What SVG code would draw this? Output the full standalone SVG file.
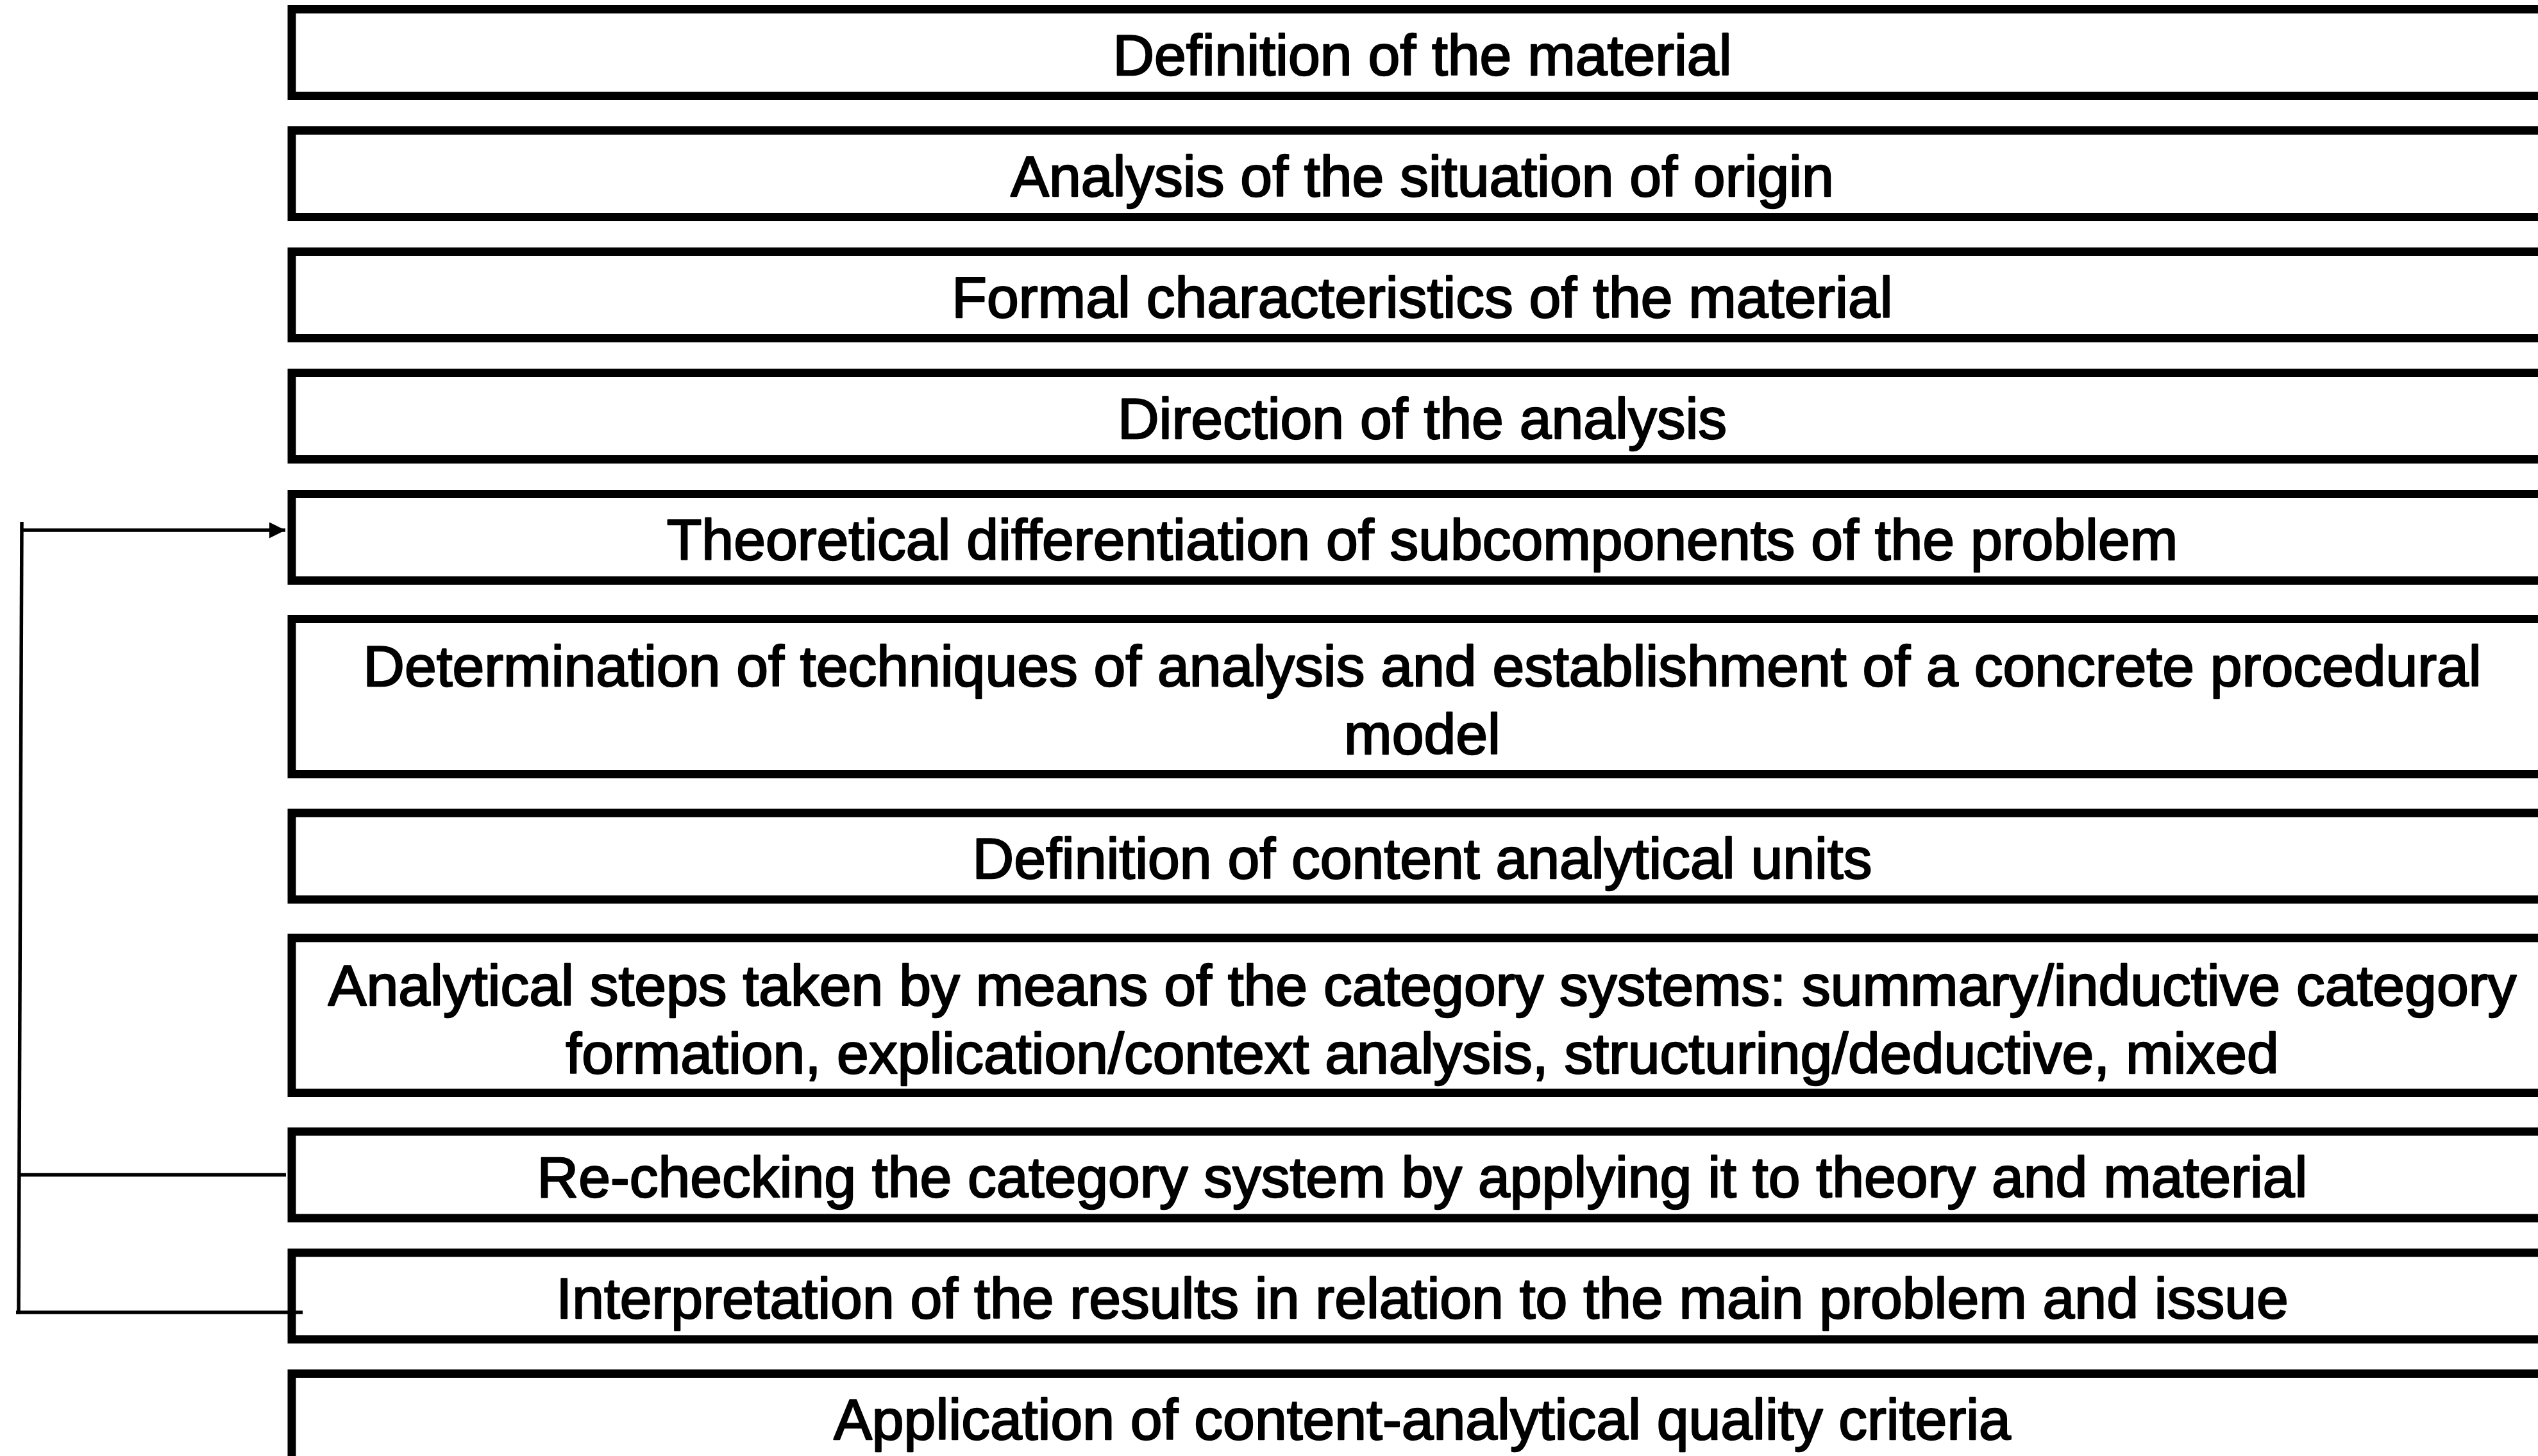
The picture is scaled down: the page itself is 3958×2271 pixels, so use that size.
<svg xmlns="http://www.w3.org/2000/svg" width="3958" height="2271" viewBox="0 0 3958 2271">
  <style>
    .box { fill: #ffffff; stroke: #000000; stroke-width: 13; }
    .lbl { font-family: "Liberation Sans", Arial, Helvetica, sans-serif; font-size: 89.5px; fill: #000000; stroke: #000000; stroke-width: 2.4px; stroke-linejoin: round; text-anchor: middle; }
    .wire { fill: none; stroke: #000000; stroke-width: 5.5; }
  </style>
  <defs>
    <marker id="arrowhead" viewBox="0 0 25 25" refX="25" refY="12.5" markerWidth="25" markerHeight="25" markerUnits="userSpaceOnUse" orient="auto">
      <path d="M0,0 L25,12.5 L0,25 Z" fill="#000000"/>
    </marker>
  </defs>
  <rect x="0" y="0" width="3958" height="2271" fill="#ffffff"/>

  <!-- process steps, each box runs off the right edge -->
  <g id="step-1">
    <rect class="box" x="455" y="14.5" width="3527" height="135"/>
    <text class="lbl" x="2218" y="116.5">Definition of the material</text>
  </g>
  <g id="step-2">
    <rect class="box" x="455" y="203.5" width="3527" height="135"/>
    <text class="lbl" x="2218" y="305.5">Analysis of the situation of origin</text>
  </g>
  <g id="step-3">
    <rect class="box" x="455" y="392.5" width="3527" height="135"/>
    <text class="lbl" x="2218" y="494.5">Formal characteristics of the material</text>
  </g>
  <g id="step-4">
    <rect class="box" x="455" y="581.5" width="3527" height="135"/>
    <text class="lbl" x="2218" y="683.5">Direction of the analysis</text>
  </g>
  <g id="step-5">
    <rect class="box" x="455" y="770.5" width="3527" height="135"/>
    <text class="lbl" x="2218" y="872.5">Theoretical differentiation of subcomponents of the problem</text>
  </g>
  <g id="step-6">
    <rect class="box" x="455" y="965.5" width="3527" height="242"/>
    <text class="lbl" x="2218" y="1070">Determination of techniques of analysis and establishment of a concrete procedural</text>
    <text class="lbl" x="2218" y="1176">model</text>
  </g>
  <g id="step-7">
    <rect class="box" x="455" y="1268" width="3527" height="135"/>
    <text class="lbl" x="2218" y="1370">Definition of content analytical units</text>
  </g>
  <g id="step-8">
    <rect class="box" x="455" y="1463" width="3527" height="241.5"/>
    <text class="lbl" x="2218" y="1568">Analytical steps taken by means of the category systems: summary/inductive category</text>
    <text class="lbl" x="2218" y="1674">formation, explication/context analysis, structuring/deductive, mixed</text>
  </g>
  <g id="step-9">
    <rect class="box" x="455" y="1765" width="3527" height="135"/>
    <text class="lbl" x="2218" y="1867">Re-checking the category system by applying it to theory and material</text>
  </g>
  <g id="step-10">
    <rect class="box" x="455" y="1954" width="3527" height="135"/>
    <text class="lbl" x="2218" y="2056">Interpretation of the results in relation to the main problem and issue</text>
  </g>
  <g id="step-11">
    <rect class="box" x="455" y="2142.5" width="3527" height="160"/>
    <text class="lbl" x="2218" y="2244.5">Application of content-analytical quality criteria</text>
  </g>

  <!-- feedback loop on the left -->
  <g id="connectors">
    <line class="wire" x1="34" y1="814" x2="29" y2="2049.5"/>
    <line class="wire" x1="32" y1="827" x2="445" y2="827" marker-end="url(#arrowhead)"/>
    <line class="wire" x1="30" y1="1832.5" x2="446" y2="1832.5"/>
    <line class="wire" x1="25" y1="2047" x2="472" y2="2047"/>
  </g>
</svg>
